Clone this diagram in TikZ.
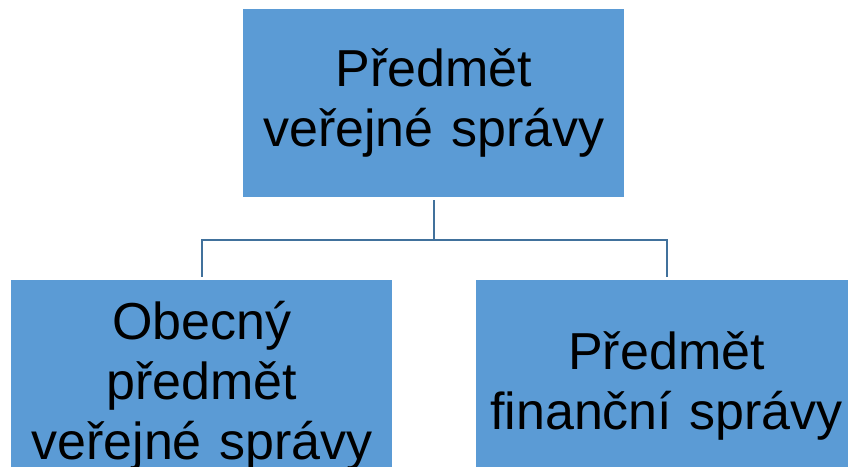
\documentclass[tikz,border=0pt]{standalone}
\usepackage{fontspec}
\setmainfont{Liberation Sans}
\usetikzlibrary{backgrounds}
\definecolor{boxfill}{HTML}{5B9BD5}
\definecolor{connline}{HTML}{41719C}
\newcommand{\tallstrut}{\rule{0pt}{60pt}}
\tikzset{
  orgbox/.style={rectangle, fill=boxfill, draw=white, line width=3pt,
    minimum width=384pt, minimum height=191pt, inner sep=0pt, outer sep=0pt,
    align=center, text width=380pt, font=\fontsize{52}{60}\selectfont, text=black},
  conn/.style={draw=connline, line width=2pt}
}
\begin{document}
\begin{tikzpicture}[x=1pt,y=-1pt]
\useasboundingbox (0,0) rectangle (848,466);
\node[orgbox] (top) at (433.8,102.5) {Předmět\\veřejné správy};
\node[orgbox] (left) at (201.9,374.4) {\tallstrut Obecný\\předmět\\veřejné správy};
\node[orgbox] (right) at (666.5,374.4) {\tallstrut Předmět\\finanční správy};
\coordinate (j) at (433.8,239.5);
\begin{scope}[on background layer]
\fill[white] (0,0) rectangle (848,466);
\draw[conn] (top.south) -- (j);
\draw[conn] (left.north) |- (j) -| (right.north);
\end{scope}
\end{tikzpicture}
\end{document}
